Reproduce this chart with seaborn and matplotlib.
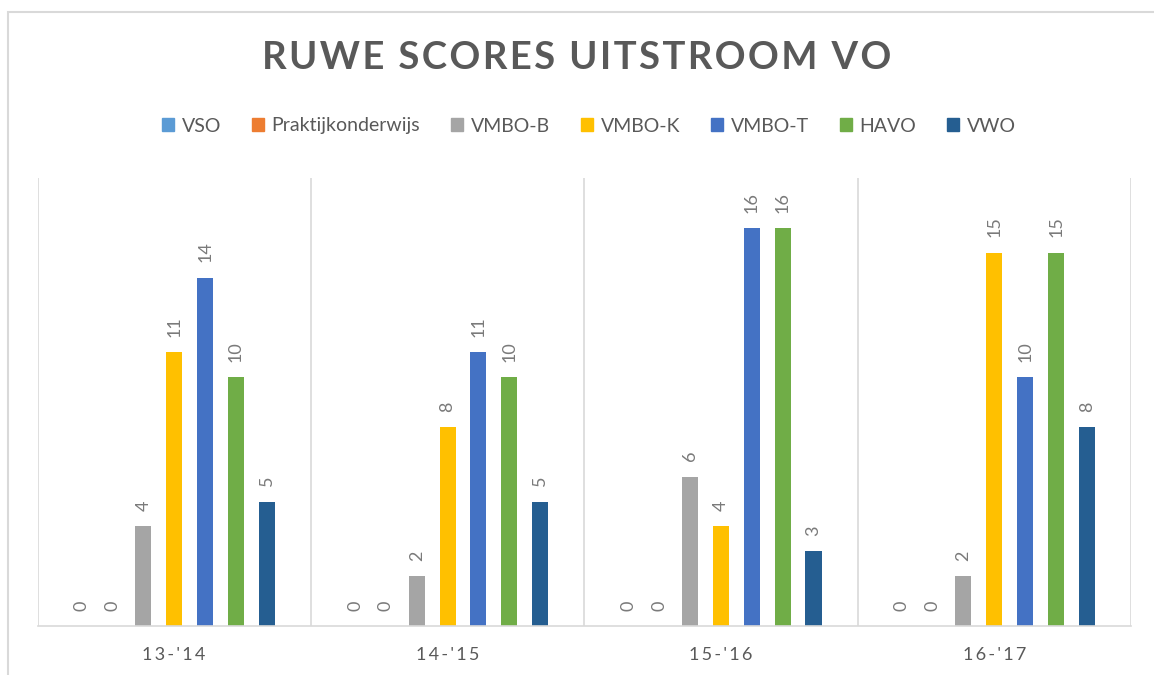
import matplotlib
matplotlib.use("Agg")
import matplotlib.pyplot as plt
import matplotlib.patches as mpatches
import seaborn as sns
import pandas as pd

periods = ["13-'14", "14-'15", "15-'16", "16-'17"]
series = ["VSO", "Praktijkonderwijs", "VMBO-B", "VMBO-K", "VMBO-T", "HAVO", "VWO"]
vso = [0, 0, 0, 0]
praktijk = [0, 0, 0, 0]
vmbo_b = [4, 2, 6, 2]
vmbo_k = [11, 8, 4, 15]
vmbo_t = [14, 11, 16, 10]
havo = [10, 10, 16, 15]
vwo = [5, 5, 3, 8]
colors = ["#5B9BD5", "#ED7D31", "#A5A5A5", "#FFC000", "#4472C4", "#70AD47", "#255E91"]

values = [vso, praktijk, vmbo_b, vmbo_k, vmbo_t, havo, vwo]
rows = []
for s, vals in zip(series, values):
    for p, v in zip(periods, vals):
        rows.append({"periode": p, "type": s, "score": v})
df = pd.DataFrame(rows)

sns.set_theme(style="white")
plt.rcParams['font.family'] = ['Lato', 'DejaVu Sans']
txt = "#595959"
grid = "#D9D9D9"

fig = plt.figure(figsize=(11.54, 6.75), dpi=100)
ax = fig.add_axes([37.5/1154, 1-626/675, (1131-37.5)/1154, (626-178)/675])

sns.barplot(data=df, x="periode", y="score", hue="type", hue_order=series,
            order=periods, palette=colors, saturation=1, width=0.79, gap=0.48,
            linewidth=0, ax=ax, legend=False, errorbar=None)

for c in ax.containers:
    ax.bar_label(c, labels=[f"{int(v)}" for v in c.datavalues], rotation=90,
                 padding=11, color="#7A7A7A", fontsize=13)

ax.set_ylim(0, 18)
ax.set_xlim(-0.5, 3.5)
ax.set_yticks([])
ax.set_xlabel("")
ax.set_ylabel("")
for sp in ["top", "right", "left"]:
    ax.spines[sp].set_visible(False)
ax.spines["bottom"].set_color(grid)
ax.spines["bottom"].set_linewidth(1.2)
for xv in [-0.5, 0.5, 1.5, 2.5, 3.5]:
    ax.axvline(xv, color=grid, lw=1.2, zorder=0)

ax.set_xticks(range(len(periods)))
ax.set_xticklabels(["\u2009".join(p) for p in periods], color=txt, fontsize=13)
ax.tick_params(axis="x", length=0, pad=15)

title = "RUWE SCORES UITSTROOM VO"
fig.text(0.5, 1-58/675, "\u200a".join(title), ha="center", va="center",
         fontsize=27.5, fontweight="bold", color=txt)

handles = [mpatches.Patch(color=c, label=s) for c, s in zip(colors, series)]
fig.legend(handles=handles, loc="center", bbox_to_anchor=(589/1154, 1-126/675),
           ncol=7, frameon=False, fontsize=14, labelcolor=txt,
           handlelength=0.6, handleheight=0.6, handletextpad=0.4, columnspacing=1.6)

border = mpatches.Rectangle((8/1154, -0.5), 2, 1.5 - 12/675, transform=fig.transFigure,
                            fill=False, edgecolor=grid, lw=1.5)
fig.patches.append(border)

fig.savefig("out.png", dpi=100, facecolor="white")
